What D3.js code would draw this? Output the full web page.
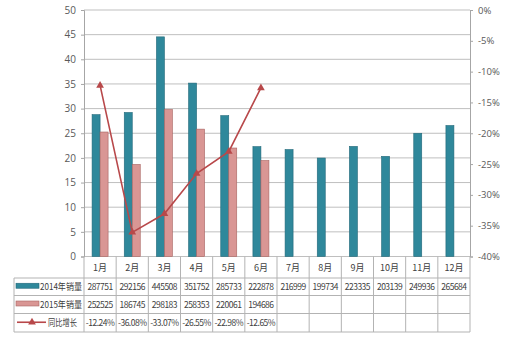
<!DOCTYPE html>
<html>
<head>
<meta charset="utf-8">
<script src="https://cdn.jsdelivr.net/npm/d3@7/dist/d3.min.js"></script>
<style>
  html, body { margin: 0; padding: 0; background: #fff; }
  svg { display: block; }
  text { font-family: "Noto Sans CJK SC", "Noto Sans", sans-serif; fill: #404040; }
</style>
</head>
<body>
<script>
// Monthly sales (units) and year-on-year change (%)
const months = ["1月","2月","3月","4月","5月","6月","7月","8月","9月","10月","11月","12月"];
const sales2014 = [287751, 292156, 445508, 351752, 285733, 222878, 216999, 199734, 223335, 203139, 249936, 265684];
const sales2015 = [252525, 186745, 298183, 258353, 220061, 194686];
const growth = [-12.24, -36.08, -33.07, -26.55, -22.98, -12.65];
const leftTicks = [0, 5, 10, 15, 20, 25, 30, 35, 40, 45, 50];
const rightTicks = [0, -5, -10, -15, -20, -25, -30, -35, -40];
const seriesNames = ["2014年销量", "2015年销量", "同比增长"];

const W = 507, H = 341;
const plot = { left: 84, right: 470, top: 10, bottom: 256.5 };
const tableLeft = 14;
const rowLines = [278, 295.5, 313.5, 332];

const colors = {
  blue: "#2F889B", blueEdge: "#23697A",
  pink: "#D99694", pinkEdge: "#A86462",
  line: "#B8484A", grid: "#BFBFBF", tableLine: "#B3B3B3", axisText: "#595959"
};

const svg = d3.select("body").append("svg").attr("width", W).attr("height", H);

const x = d3.scaleBand().domain(months).range([plot.left, plot.right]);
const y = d3.scaleLinear().domain([0, 50]).range([plot.bottom, plot.top]);
const yR = d3.scaleLinear().domain([-40, 0]).range([plot.bottom, plot.top]);

// horizontal gridlines
svg.append("g").selectAll("line").data(leftTicks).join("line")
  .attr("x1", plot.left).attr("x2", plot.right)
  .attr("y1", d => y(d)).attr("y2", d => y(d))
  .attr("stroke", colors.grid).attr("stroke-width", 1);

// left axis
const gL = svg.append("g").attr("transform", `translate(${plot.left},0)`)
  .call(d3.axisLeft(y).tickValues(leftTicks).tickSize(3).tickPadding(5));
gL.select(".domain").attr("stroke", "#A6A6A6");
gL.selectAll(".tick line").attr("stroke", "#A6A6A6");
gL.selectAll("text").style("font-size", "10px").style("fill", colors.axisText)
  .style("font-family", "'Open Sans', 'Noto Sans', sans-serif");

// right axis
const gR = svg.append("g").attr("transform", `translate(${plot.right},0)`)
  .call(d3.axisRight(yR).tickValues(rightTicks).tickSize(3).tickPadding(5)
    .tickFormat(d => d + "%"));
gR.select(".domain").attr("stroke", "#A6A6A6");
gR.selectAll(".tick line").attr("stroke", "#A6A6A6");
gR.selectAll("text").style("font-size", "9.5px").style("fill", colors.axisText)
  .style("font-family", "'Open Sans', 'Noto Sans', sans-serif");

// bars
const barW = 8;
svg.append("g").selectAll("rect").data(sales2014).join("rect")
  .attr("x", (d, i) => x(months[i]) + x.bandwidth() / 2 - barW)
  .attr("y", d => y(d / 10000))
  .attr("width", barW)
  .attr("height", d => plot.bottom - y(d / 10000))
  .attr("fill", colors.blue).attr("stroke", colors.blueEdge).attr("stroke-width", 0.6);

svg.append("g").selectAll("rect").data(sales2015).join("rect")
  .attr("x", (d, i) => x(months[i]) + x.bandwidth() / 2)
  .attr("y", d => y(d / 10000))
  .attr("width", barW)
  .attr("height", d => plot.bottom - y(d / 10000))
  .attr("fill", colors.pink).attr("stroke", colors.pinkEdge).attr("stroke-width", 0.6);

// growth line
const cx = i => x(months[i]) + x.bandwidth() / 2;
const lineGen = d3.line().x((d, i) => cx(i)).y(d => yR(d));
svg.append("path").datum(growth).attr("d", lineGen)
  .attr("fill", "none").attr("stroke", colors.line).attr("stroke-width", 1.6);

const tri = d3.symbol().type(d3.symbolTriangle).size(26);
svg.append("g").selectAll("path").data(growth).join("path")
  .attr("d", tri)
  .attr("transform", (d, i) => `translate(${cx(i)},${yR(d)})`)
  .attr("fill", colors.line);

// data table
const table = svg.append("g");
// column dividers
const bounds = months.map(m => x(m)).concat([plot.right]);
table.selectAll("line.v").data(bounds).join("line")
  .attr("x1", d => d).attr("x2", d => d)
  .attr("y1", plot.bottom).attr("y2", rowLines[3])
  .attr("stroke", colors.tableLine);
table.append("line")
  .attr("x1", tableLeft).attr("x2", tableLeft)
  .attr("y1", rowLines[0]).attr("y2", rowLines[3])
  .attr("stroke", colors.tableLine);
table.selectAll("line.h").data(rowLines).join("line")
  .attr("x1", tableLeft).attr("x2", plot.right)
  .attr("y1", d => d).attr("y2", d => d)
  .attr("stroke", colors.tableLine);

// month header
table.selectAll("text.m").data(months).join("text")
  .attr("x", (d, i) => cx(i)).attr("y", (plot.bottom + rowLines[0]) / 2 + 3.5)
  .attr("text-anchor", "middle").style("font-size", "9px")
  .text(d => d);

const rowMid = r => (rowLines[r] + rowLines[r + 1]) / 2 + 3;
const cellFont = sel => sel.attr("text-anchor", "middle").style("font-size", "8.5px")
  .style("letter-spacing", "-0.5px");

table.selectAll("text.a").data(sales2014).join("text")
  .attr("x", (d, i) => cx(i)).attr("y", rowMid(0)).call(cellFont).text(d => d);
table.selectAll("text.b").data(sales2015).join("text")
  .attr("x", (d, i) => cx(i)).attr("y", rowMid(1)).call(cellFont).text(d => d);
table.selectAll("text.c").data(growth).join("text")
  .attr("x", (d, i) => cx(i)).attr("y", rowMid(2)).call(cellFont)
  .text(d => d.toFixed(2) + "%");

// legend keys in the table's first column
const keyX = 16, keyW = 23;
table.append("rect").attr("x", keyX).attr("y", rowMid(0) - 6.5).attr("width", keyW).attr("height", 5)
  .attr("fill", colors.blue).attr("stroke", colors.blueEdge).attr("stroke-width", 0.6);
table.append("rect").attr("x", keyX).attr("y", rowMid(1) - 6.5).attr("width", keyW).attr("height", 5)
  .attr("fill", colors.pink).attr("stroke", colors.pinkEdge).attr("stroke-width", 0.6);
table.append("line").attr("x1", 17).attr("x2", 46)
  .attr("y1", rowMid(2) - 3.5).attr("y2", rowMid(2) - 3.5)
  .attr("stroke", colors.line).attr("stroke-width", 1.6);
table.append("path").attr("d", tri)
  .attr("transform", `translate(32,${rowMid(2) - 3.5})`)
  .attr("fill", colors.line);
const labelPos = [{ x: 40, w: 42 }, { x: 40, w: 42 }, { x: 48, w: 29 }];
table.selectAll("text.k").data(seriesNames).join("text")
  .attr("x", (d, i) => labelPos[i].x).attr("y", (d, i) => rowMid(i))
  .style("font-size", "9.5px")
  .attr("textLength", (d, i) => labelPos[i].w).attr("lengthAdjust", "spacingAndGlyphs")
  .text(d => d);
</script>
</body>
</html>
